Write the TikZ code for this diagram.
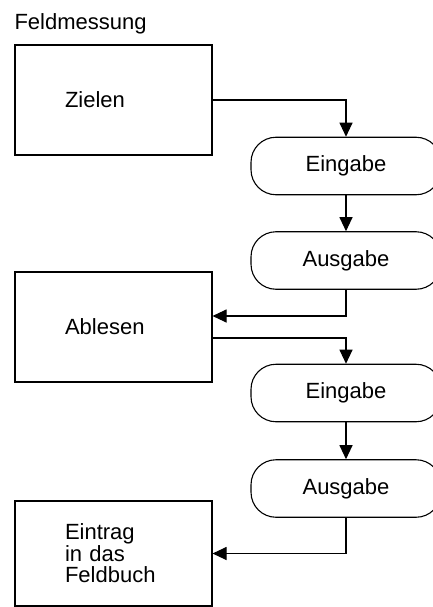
\documentclass[tikz,border=0pt]{standalone}
\usepackage{fontspec}
\setmainfont{Liberation Sans}
\usetikzlibrary{arrows.meta}

\begin{document}
\begin{tikzpicture}[x=1pt, y=-1pt, line width=1.1pt,
    every node/.style={font=\fontsize{22pt}{21.5pt}\selectfont},
    task/.style={rectangle, draw, minimum width=197pt, minimum height=110pt,
                 text width=97pt, inner xsep=50pt, inner ysep=0pt, align=left},
    io/.style={rectangle, draw, rounded corners=25pt, minimum width=190pt,
               minimum height=57.5pt, inner sep=0pt},
    flow/.style={-{Triangle[length=14pt, width=13pt]}}]

\useasboundingbox (0,0) rectangle (432,607);

\node[anchor=base west, inner sep=0pt] (title) at (14,30) {Feldmessung};

\node[task] (zielen) at (113.5,100) {Zielen};
\node[io] (eing1) at (346,166) {Eingabe};
\node[io] (ausg1) at (346,260.5) {Ausgabe};
\node[task] (ablesen) at (113.5,327) {Ablesen};
\node[io] (eing2) at (346,393) {Eingabe};
\node[io] (ausg2) at (346,488.5) {Ausgabe};
\node[task, minimum height=105pt] (eintrag) at (113.5,553.5) {Eintrag\\in das\\Feldbuch};

\draw[flow] (zielen.east) -| (eing1.north);
\draw[flow] (eing1.south) -- (ausg1.north);
\draw[flow] (ausg1.south) |- ([yshift=11pt]ablesen.east);
\draw[flow] ([yshift=-11pt]ablesen.east) -| (eing2.north);
\draw[flow] (eing2.south) -- (ausg2.north);
\draw[flow] (ausg2.south) |- (eintrag.east);
\end{tikzpicture}
\end{document}
